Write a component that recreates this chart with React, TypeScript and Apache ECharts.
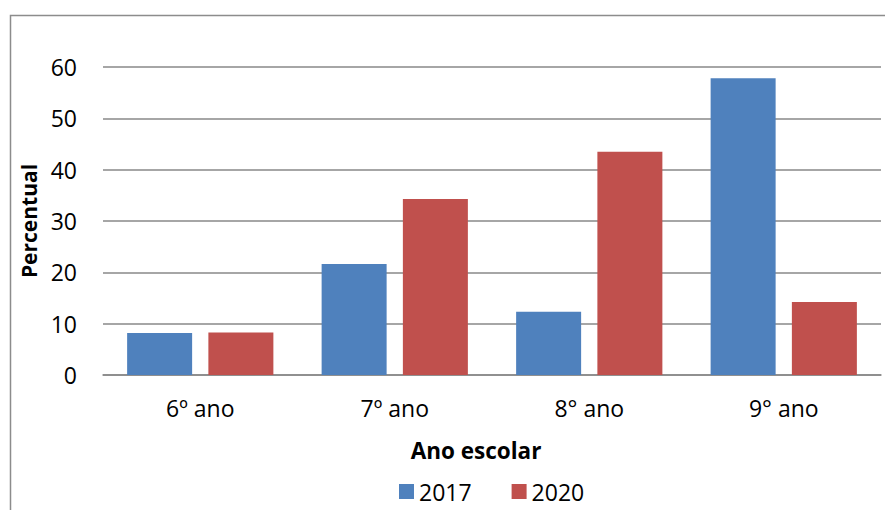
import React, { useEffect, useRef } from "react";
import * as echarts from "echarts";

const categories = ["6º ano", "7º ano", "8° ano", "9° ano"];
const values2017 = [8.2, 21.6, 12.3, 57.8];
const values2020 = [8.3, 34.3, 43.5, 14.2];
const seriesNames = ["2017", "2020"];

export default function App() {
  const ref = useRef<HTMLDivElement>(null);
  useEffect(() => {
    if (!ref.current) return;
    const chart = echarts.init(ref.current, undefined, { renderer: "svg" });
    const font = "'Open Sans', 'Liberation Sans', sans-serif";
    chart.setOption({
      animation: false,
      backgroundColor: "#ffffff",
      textStyle: { fontFamily: font, color: "#000" },
      graphic: [
        {
          type: "rect",
          shape: { x: 10.5, y: 15.5, width: 900, height: 600 },
          style: { fill: "none", stroke: "#8c8c8c", lineWidth: 1.5 },
          silent: true,
        },
      ],
      grid: { left: 103, right: 4, top: 67, bottom: 135 },
      legend: {
        bottom: 2,
        left: 394,
        itemWidth: 15,
        itemHeight: 15,
        itemGap: 40,
        icon: "rect",
        textStyle: { fontFamily: font, fontSize: 23, color: "#000", padding: [0, 0, 0, 0] },
        data: seriesNames,
      },
      xAxis: {
        type: "category",
        data: categories,
        name: "Ano escolar",
        nameLocation: "middle",
        nameGap: 64,
        nameTextStyle: {
          fontFamily: font,
          fontSize: 22.5,
          fontWeight: "bold",
          color: "#000",
          padding: [0, 32, 0, 0],
        },
        axisLine: { lineStyle: { color: "#888888", width: 1.5 } },
        axisTick: { show: false },
        axisLabel: { fontFamily: font, fontSize: 23, color: "#000", margin: 21 },
      },
      yAxis: {
        type: "value",
        min: 0,
        max: 60,
        interval: 10,
        name: "Percentual",
        nameLocation: "middle",
        nameGap: 62,
        nameRotate: 90,
        nameTextStyle: { fontFamily: font, fontSize: 21, fontWeight: "bold", color: "#000" },
        axisLine: { show: false },
        axisTick: { show: false },
        axisLabel: { fontFamily: font, fontSize: 23, color: "#000", margin: 26 },
        splitLine: { lineStyle: { color: "#888888", width: 1.5 } },
      },
      series: [
        {
          name: seriesNames[0],
          type: "bar",
          data: values2017,
          barWidth: 65,
          barGap: "25%",
          itemStyle: { color: "#4F81BD" },
        },
        {
          name: seriesNames[1],
          type: "bar",
          data: values2020,
          barWidth: 65,
          barGap: "25%",
          itemStyle: { color: "#C0504D" },
        },
      ],
    });
    return () => chart.dispose();
  }, []);
  return (
    <div
      ref={ref}
      style={{ position: "fixed", left: 0, top: 0, width: 885, height: 510 }}
    />
  );
}
